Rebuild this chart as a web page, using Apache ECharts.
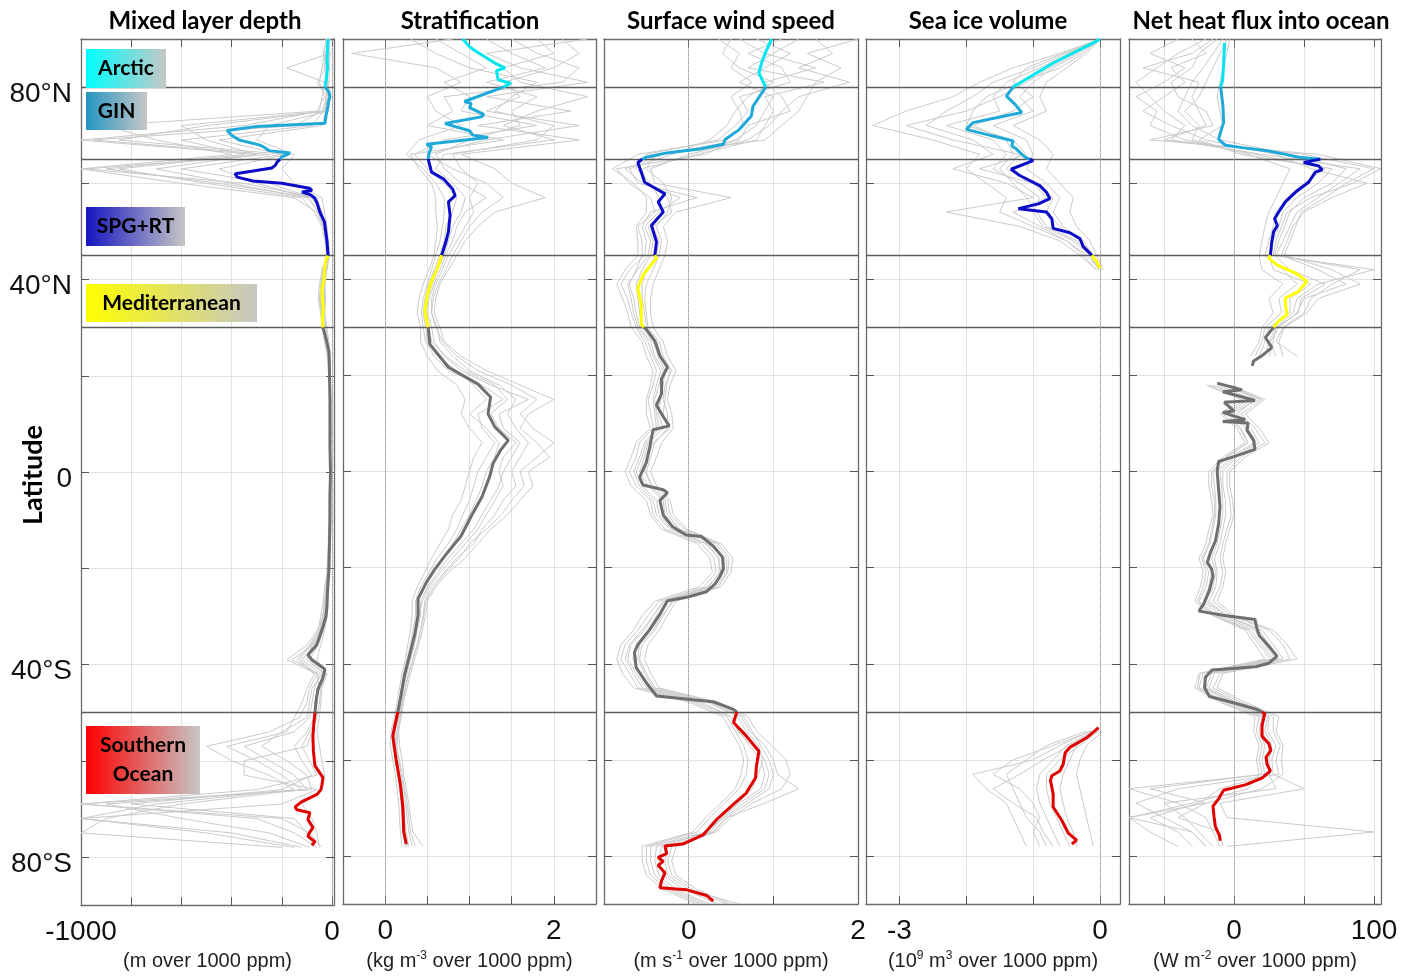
<!DOCTYPE html>
<html><head><meta charset="utf-8">
<script src="https://cdn.jsdelivr.net/npm/echarts@6/dist/echarts.min.js"></script>
<style>html,body{margin:0;padding:0;background:#fff}#c{width:1411px;height:976px}</style>
</head><body><div id="c"></div>
<script>
// ---------------- DATA ----------------
const PANEL_TITLES = ['Mixed layer depth','Stratification','Surface wind speed','Sea ice volume','Net heat flux into ocean'];
const X_MIN = [-1000, -0.5, -1, -3.5, -75];
const X_MAX = [8, 2.5, 2, 0.3, 105];
const X_TICKS = [[-800,-600,-400,-200,0],[0,0.5,1,1.5,2],[0,1],[-3,-2,-1,0],[-50,0,50,100]];
const X_LABELS = [[-1000,0],[0,2],[0,2],[-3,0],[0,100]];
const Y_TICKS = [-80,-60,-40,-20,0,20,40,60,80];
const Y_LABELS = [-80,-40,0,40,80];
const REGION_LINES = [80,65,45,30,-50];
const REGION_NAMES = ['Arctic','GIN','SPG+RT','Mediterranean','Other','Southern Ocean'];
const REGION_BOUNDS = [[80,90],[65,80],[45,65],[30,45],[-50,30],[-90,-50]];

// ensemble-member latitude grid (3 degree)
const LAT_GRID = [90,87,84,81,78,75,72,69,66,63,60,57,54,51,48,45,42,39,36,33,30,27,24,21,18,15,12,9,6,3,0,-3,-6,-9,-12,-15,-18,-21,-24,-27,-30,-33,-36,-39,-42,-45,-48,-51,-54,-57,-60,-63,-66,-69,-72,-75,-78,-81,-84,-87,-90];

// Mixed layer depth (m over 1000 ppm)
const mldMean = [[90,-16],[88,-18],[86,-20],[84,-18],[82,-22],[80,-28],[79,-12],[78,-8],[77,-14],[76,-16],[74,-24],[72.5,-28],[71.8,-300],[71,-418],[70,-400],[69,-370],[68,-290],[67.5,-270],[66.8,-250],[66.3,-167],[65.5,-200],[65,-207],[64.4,-219],[63.8,-225],[63.2,-240],[62.5,-320],[62,-386],[61.3,-378],[60.5,-315],[60,-200],[59,-90],[58.5,-80],[58.2,-120],[57.6,-85],[57,-70],[56,-60],[54,-48],[52,-30],[50,-25],[48,-20],[46,-17],[45,-16],[44,-25],[42,-30],[40,-32],[38,-40],[36,-38],[34,-35],[32,-38],[30,-36],[28,-25],[25,-12],[20,-10],[15,-8],[10,-8],[5,-8],[0,-6],[-5,-8],[-10,-8],[-15,-10],[-20,-12],[-25,-18],[-28,-20],[-30,-24],[-32,-35],[-34,-48],[-36,-62],[-38,-96],[-39,-80],[-41,-28],[-43,-38],[-45,-55],[-47,-62],[-50,-68],[-52,-72],[-55,-76],[-58,-74],[-61,-68],[-63.5,-36],[-65,-40],[-66,-44],[-67,-60],[-67.7,-88],[-68.5,-120],[-69.6,-147],[-70.2,-140],[-70.8,-88],[-72.2,-96],[-73.9,-76],[-75,-90],[-75.7,-96],[-76.8,-68],[-77.6,-80]];
const mldMembers = [
 [-10,-25,-30,-15,-20,-40,-150,-950,-250,-980,-350,-60,-40,-25,-15,-10,-20,-30,-25,-30,-20,-12,-8,-6,-6,-5,-5,-4,-5,-6,-5,-6,-6,-8,-8,-10,-12,-15,-20,-22,-30,-40,-70,-120,-40,-80,-90,-100,-200,-280,-180,-100,-80,-1000,-300,-150,-60],
 [-20,-10,-180,-30,-15,-30,-600,-500,-300,-700,-400,-100,-50,-30,-25,-20,-35,-45,-50,-40,-35,-25,-15,-10,-8,-8,-8,-7,-8,-8,-8,-9,-10,-10,-12,-12,-15,-18,-25,-30,-35,-60,-100,-180,-60,-50,-70,-60,-80,-100,-350,-350,-60,-200,-1000,-400,-120],
 [-15,-12,-20,-18,-10,-15,-250,-300,-150,-200,-150,-40,-30,-20,-15,-12,-25,-30,-35,-35,-30,-20,-10,-8,-8,-6,-6,-6,-7,-6,-6,-7,-7,-8,-9,-10,-10,-12,-15,-18,-20,-30,-45,-60,-20,-40,-45,-50,-60,-50,-40,-30,-40,-120,-80,-60,-50],
 [-25,-30,-40,-50,-30,-60,-900,-700,-400,-1000,-600,-150,-60,-35,-25,-18,-40,-50,-55,-45,-40,-30,-18,-12,-10,-10,-10,-10,-10,-10,-10,-10,-12,-12,-14,-15,-18,-20,-30,-35,-45,-55,-90,-140,-70,-100,-120,-150,-180,-420,-300,-200,-120,-600,-900,-1000,-200],
 [-8,-15,-10,-12,-25,-25,-40,-450,-200,-600,-250,-80,-45,-30,-20,-14,-28,-38,-42,-40,-38,-22,-10,-7,-7,-7,-7,-7,-7,-7,-7,-7,-8,-9,-10,-11,-12,-14,-18,-22,-28,-45,-80,-100,-30,-60,-60,-70,-100,-150,-120,-80,-200,-800,-150,-100,-70],
 [-12,-20,-25,-60,-15,-20,-500,-850,-180,-450,-300,-90,-55,-32,-22,-16,-30,-40,-45,-38,-32,-20,-12,-9,-8,-8,-7,-7,-8,-7,-7,-8,-8,-9,-10,-12,-14,-16,-22,-28,-38,-50,-75,-160,-50,-70,-80,-90,-150,-350,-250,-150,-100,-900,-600,-250,-90],
 [-18,-8,-15,-25,-40,-50,-350,-1000,-300,-850,-500,-120,-70,-40,-28,-22,-22,-28,-30,-28,-25,-15,-9,-6,-6,-6,-6,-5,-6,-6,-6,-6,-7,-7,-8,-9,-11,-13,-17,-20,-25,-35,-55,-90,-25,-45,-50,-60,-90,-120,-90,-60,-300,-1000,-200,-90,-40],
 [-22,-35,-20,-20,-12,-35,-80,-600,-350,-900,-450,-70,-42,-28,-18,-12,-35,-42,-48,-42,-36,-24,-14,-10,-9,-9,-9,-8,-9,-9,-9,-9,-10,-11,-12,-13,-16,-18,-24,-26,-32,-48,-85,-130,-60,-90,-100,-130,-250,-500,-400,-250,-150,-700,-1000,-500,-150]
];

// Stratification (kg m-3 over 1000 ppm)
const stratMean = [[90,0.92],[88.4,1.0],[87.4,1.08],[85,1.30],[84,1.42],[83.4,1.32],[81.5,1.34],[80.8,1.49],[80,1.40],[77,0.94],[76.6,1.02],[75.7,1.0],[74.3,1.17],[73.8,1.14],[72.4,0.71],[70.9,1.0],[70,1.04],[69.5,1.22],[68.1,0.49],[67.5,0.55],[66.3,0.52],[65,0.51],[62.3,0.55],[60.9,0.69],[58.8,0.80],[57.4,0.83],[56.1,0.75],[53.3,0.77],[49.9,0.75],[47.8,0.72],[45,0.67],[42.3,0.62],[39.6,0.55],[36.8,0.50],[33.4,0.47],[30,0.51],[26.5,0.53],[21.7,0.75],[18.2,1.10],[15.5,1.25],[12,1.22],[9.3,1.30],[6.5,1.46],[4.5,1.37],[1.7,1.28],[-1,1.24],[-5.2,1.15],[-9.3,1.02],[-13.4,0.90],[-17.5,0.71],[-20.3,0.59],[-23,0.49],[-26.5,0.39],[-29.9,0.39],[-34,0.35],[-38.2,0.29],[-42.3,0.23],[-46.4,0.19],[-50,0.15],[-55,0.09],[-60,0.13],[-65,0.18],[-70,0.21],[-75,0.22],[-77.5,0.25]];
const stratMembers = [
 [0.3,0.6,1.0,1.8,1.5,1.3,2.0,1.8,0.8,0.9,1.1,1.0,1.05,0.95,0.85,0.75,0.68,0.60,0.55,0.55,0.62,0.65,0.80,1.0,1.35,1.55,1.45,1.55,1.7,1.6,1.5,1.55,1.40,1.30,1.15,1.05,0.85,0.70,0.55,0.47,0.45,0.42,0.38,0.33,0.28,0.24,0.21,0.18,0.15,0.14,0.16,0.19,0.22,0.24,0.26,0.28,0.32],
 [1.5,1.8,2.3,2.1,0.7,0.8,0.5,1.4,0.3,0.4,0.55,0.6,0.6,0.62,0.6,0.58,0.52,0.45,0.40,0.38,0.42,0.42,0.50,0.62,0.85,0.95,0.90,1.0,1.15,1.05,1.0,0.95,0.9,0.80,0.75,0.65,0.55,0.47,0.38,0.32,0.32,0.30,0.27,0.24,0.20,0.17,0.14,0.11,0.07,0.06,0.09,0.12,0.14,0.16,0.17,0.18,0.2],
 [2.4,1.2,1.6,2.4,1.2,2.2,1.1,2.3,0.9,1.3,1.5,1.9,1.3,1.1,0.95,0.85,0.75,0.65,0.6,0.58,0.65,0.7,0.9,1.2,1.6,2.0,1.7,1.6,1.8,1.95,1.7,1.75,1.6,1.45,1.25,1.1,0.95,0.75,0.6,0.5,0.48,0.44,0.4,0.35,0.3,0.26,0.22,0.19,0.16,0.17,0.2,0.22,0.25,0.28,0.3,0.33,0.45],
 [0.8,-0.4,0.6,0.9,0.5,0.6,0.9,0.4,0.25,0.45,0.6,0.7,0.7,0.68,0.65,0.6,0.55,0.5,0.45,0.43,0.45,0.48,0.58,0.75,1.15,1.4,1.1,1.15,1.3,1.2,1.1,1.05,1.0,0.92,0.85,0.75,0.62,0.52,0.42,0.36,0.36,0.33,0.3,0.26,0.22,0.19,0.16,0.13,0.1,0.09,0.12,0.15,0.17,0.19,0.2,0.21,0.24],
 [1.2,1.5,1.9,1.2,1.8,1.5,1.6,1.0,0.6,0.7,0.9,1.2,0.95,0.85,0.8,0.72,0.65,0.58,0.52,0.5,0.55,0.58,0.7,0.9,1.25,1.7,1.35,1.4,1.6,1.5,1.4,1.35,1.25,1.15,1.05,0.9,0.75,0.62,0.5,0.42,0.42,0.38,0.35,0.3,0.26,0.22,0.19,0.16,0.12,0.12,0.15,0.17,0.2,0.22,0.23,0.25,0.28],
 [1.8,2.0,1.4,1.6,2.4,1.8,1.4,2.0,0.7,0.6,0.8,0.95,0.9,0.8,0.75,0.7,0.62,0.56,0.5,0.48,0.52,0.55,0.72,0.95,1.3,1.45,1.25,1.35,1.55,1.4,1.35,1.4,1.3,1.2,1.1,0.95,0.8,0.65,0.52,0.44,0.4,0.37,0.33,0.29,0.25,0.21,0.18,0.15,0.11,0.1,0.13,0.16,0.19,0.21,0.22,0.24,0.27],
 [0.6,0.9,1.2,0.7,1.0,0.9,1.8,0.7,0.35,0.5,0.7,0.85,0.8,0.72,0.7,0.65,0.58,0.52,0.47,0.45,0.48,0.5,0.62,0.85,1.05,1.2,1.0,1.2,1.35,1.3,1.2,1.15,1.08,1.0,0.9,0.8,0.68,0.56,0.45,0.38,0.38,0.35,0.31,0.27,0.23,0.2,0.17,0.14,0.1,0.1,0.13,0.16,0.18,0.2,0.21,0.22,0.25],
 [2.1,2.3,2.0,1.4,1.6,1.2,2.3,1.2,0.5,0.8,1.2,1.4,1.15,1.0,0.9,0.8,0.72,0.63,0.57,0.55,0.6,0.68,0.85,1.1,1.5,1.8,1.6,1.75,2.0,1.8,1.6,1.65,1.5,1.38,1.2,1.0,0.88,0.72,0.58,0.48,0.46,0.42,0.38,0.33,0.28,0.24,0.2,0.17,0.14,0.13,0.17,0.2,0.23,0.26,0.28,0.3,0.36]
];

// Surface wind speed (m s-1 over 1000 ppm)
const windMean = [[90,0.98],[87.7,0.92],[85,0.86],[82.9,0.83],[80,0.91],[76,0.76],[74,0.74],[71.2,0.60],[69.1,0.43],[68.1,0.41],[67.1,0.13],[66.3,-0.26],[65.4,-0.50],[65,-0.55],[64.3,-0.60],[62.3,-0.56],[60.2,-0.52],[57.8,-0.28],[56.1,-0.36],[54,-0.30],[51.2,-0.44],[47.8,-0.38],[45,-0.40],[44.4,-0.38],[40.9,-0.54],[38.2,-0.60],[34.7,-0.56],[30.6,-0.56],[30,-0.53],[29.6,-0.50],[27.2,-0.40],[24.1,-0.34],[21.7,-0.25],[19.3,-0.32],[16.2,-0.32],[13.8,-0.38],[11.4,-0.30],[9.5,-0.23],[8.7,-0.42],[5.1,-0.46],[1.9,-0.50],[-1.2,-0.58],[-2.8,-0.54],[-3.8,-0.30],[-4.4,-0.25],[-6.0,-0.34],[-9.1,-0.30],[-11.5,-0.19],[-13.2,-0.03],[-13.5,0.15],[-15.5,0.29],[-17.8,0.40],[-20.2,0.41],[-21.8,0.37],[-23.4,0.31],[-25.0,0.21],[-26.1,-0.01],[-26.9,-0.25],[-29.7,-0.34],[-32.9,-0.46],[-36.0,-0.60],[-37.6,-0.64],[-40.8,-0.62],[-43.9,-0.50],[-46.7,-0.38],[-47.5,0.05],[-47.9,0.29],[-49.5,0.53],[-50,0.57],[-50.3,0.59],[-52.2,0.53],[-55.0,0.68],[-58.2,0.83],[-61.3,0.80],[-63.7,0.79],[-66.9,0.68],[-69.2,0.53],[-72.4,0.33],[-75.6,0.17],[-77.5,-0.07],[-77.9,-0.28],[-79.5,-0.26],[-80.3,-0.36],[-81.1,-0.30],[-81.9,-0.36],[-83.5,-0.28],[-85.1,-0.32],[-86.6,-0.34],[-87.0,-0.03],[-88.2,0.21],[-89.4,0.29]];
const windMembers = [
 [0.5,0.4,0.6,1.0,0.7,0.55,0.45,0.25,-0.2,-0.7,-0.6,0.1,-0.45,-0.55,-0.5,-0.52,-0.7,-0.8,-0.72,-0.68,-0.62,-0.52,-0.45,-0.38,-0.42,-0.48,-0.45,-0.42,-0.58,-0.62,-0.7,-0.62,-0.45,-0.42,-0.28,0.15,0.3,0.32,0.18,-0.35,-0.48,-0.6,-0.75,-0.8,-0.7,-0.6,0.05,0.45,0.55,0.65,0.7,0.68,0.6,0.42,0.25,0.1,-0.5,-0.5,-0.45,-0.25,0.15],
 [1.5,1.7,1.3,1.9,1.3,1.1,0.95,0.7,0.0,-0.45,-0.4,0.5,-0.15,-0.3,-0.25,-0.28,-0.35,-0.42,-0.45,-0.45,-0.42,-0.3,-0.25,-0.15,-0.22,-0.25,-0.2,-0.18,-0.32,-0.38,-0.45,-0.38,-0.22,-0.18,-0.02,0.38,0.52,0.5,0.38,-0.15,-0.25,-0.35,-0.48,-0.52,-0.45,-0.35,0.35,0.7,0.8,0.98,1.15,1.2,1.1,0.75,0.5,0.32,-0.15,-0.2,-0.15,0.1,0.5],
 [0.8,1.2,0.9,0.6,1.0,0.9,0.8,0.55,0.2,-0.85,-0.7,-0.45,-0.4,-0.6,-0.55,-0.55,-0.62,-0.7,-0.65,-0.62,-0.58,-0.45,-0.4,-0.3,-0.35,-0.4,-0.38,-0.35,-0.5,-0.55,-0.62,-0.55,-0.38,-0.35,-0.2,0.22,0.35,0.38,0.22,-0.3,-0.42,-0.52,-0.68,-0.72,-0.62,-0.5,0.15,0.5,0.6,0.72,0.85,0.9,0.85,0.6,0.4,0.25,-0.38,-0.4,-0.35,-0.15,0.25],
 [2.0,1.4,1.8,1.5,1.4,1.3,1.1,0.9,-0.4,-0.5,-0.3,-0.2,-0.25,-0.38,-0.32,-0.35,-0.42,-0.5,-0.52,-0.5,-0.48,-0.35,-0.3,-0.2,-0.28,-0.3,-0.25,-0.25,-0.4,-0.45,-0.5,-0.45,-0.28,-0.25,-0.1,0.32,0.45,0.45,0.32,-0.2,-0.3,-0.4,-0.55,-0.58,-0.5,-0.4,0.25,0.62,0.72,0.9,1.0,1.05,1.3,0.9,0.45,0.28,-0.25,-0.28,-0.25,0.0,0.6],
 [1.1,0.7,1.1,1.2,0.6,0.7,0.55,0.35,-0.5,-0.62,-0.45,-0.35,-0.3,-0.48,-0.42,-0.45,-0.55,-0.62,-0.6,-0.58,-0.55,-0.42,-0.36,-0.28,-0.3,-0.33,-0.36,-0.3,-0.48,-0.52,-0.58,-0.48,-0.3,-0.28,-0.12,0.28,0.42,0.42,0.28,-0.25,-0.38,-0.48,-0.62,-0.66,-0.58,-0.48,0.22,0.58,0.68,0.82,0.88,0.82,0.75,0.58,0.38,0.22,-0.32,-0.35,-0.3,-0.05,0.35],
 [0.6,0.9,1.5,0.9,1.1,1.2,0.7,0.6,-0.3,-0.75,-0.55,-0.1,-0.35,-0.52,-0.45,-0.48,-0.6,-0.72,-0.68,-0.65,-0.6,-0.48,-0.42,-0.33,-0.38,-0.42,-0.4,-0.38,-0.52,-0.58,-0.65,-0.58,-0.42,-0.38,-0.22,0.2,0.36,0.36,0.24,-0.28,-0.42,-0.55,-0.7,-0.75,-0.65,-0.55,0.1,0.5,0.58,0.75,0.9,0.95,0.9,0.65,0.42,0.2,-0.45,-0.45,-0.4,-0.2,0.2],
 [1.3,1.0,0.7,1.6,0.9,1.0,0.9,0.8,0.1,-0.55,-0.5,-0.25,-0.2,-0.42,-0.35,-0.38,-0.5,-0.55,-0.55,-0.52,-0.5,-0.38,-0.32,-0.22,-0.26,-0.28,-0.3,-0.22,-0.42,-0.48,-0.52,-0.42,-0.25,-0.22,-0.05,0.35,0.48,0.46,0.35,-0.18,-0.32,-0.42,-0.58,-0.6,-0.52,-0.42,0.3,0.65,0.75,0.85,0.95,1.0,0.95,0.7,0.45,0.3,-0.2,-0.25,-0.2,0.05,0.45],
 [0.35,0.6,0.5,0.75,0.5,0.6,0.65,0.45,-0.6,-0.9,-0.65,-0.5,-0.5,-0.62,-0.6,-0.6,-0.75,-0.85,-0.78,-0.72,-0.68,-0.55,-0.5,-0.42,-0.45,-0.5,-0.5,-0.45,-0.62,-0.68,-0.75,-0.68,-0.5,-0.45,-0.32,0.1,0.25,0.28,0.12,-0.4,-0.55,-0.65,-0.8,-0.85,-0.78,-0.65,0.0,0.4,0.5,0.6,0.65,0.62,0.55,0.38,0.2,0.05,-0.55,-0.55,-0.5,-0.3,0.1]
];

// Sea ice volume (10^9 m3 over 1000 ppm)
const iceMean = [[90,0],[89.4,-0.07],[85,-0.70],[80,-1.30],[78.1,-1.40],[76.4,-1.27],[74.7,-1.17],[73.6,-1.55],[72.6,-1.90],[71.2,-2.00],[69.8,-1.60],[68.8,-1.30],[67.8,-1.32],[67.1,-1.25],[65.4,-1.12],[65,-1.05],[64.7,-1.0],[62.9,-1.33],[61.6,-1.2],[59.5,-0.90],[58.1,-0.80],[56.8,-0.75],[55.7,-0.92],[54.7,-1.22],[54,-0.80],[52.6,-0.72],[50.6,-0.70],[49.7,-0.45],[48.5,-0.30],[46.8,-0.25],[45,-0.12],[43.7,-0.05],[42.3,0.0],[-53.3,-0.02],[-55.4,-0.20],[-57.4,-0.45],[-58.5,-0.52],[-60.9,-0.55],[-62.3,-0.60],[-63.3,-0.72],[-64.3,-0.74],[-67.1,-0.70],[-69.8,-0.70],[-72.6,-0.57],[-75.3,-0.47],[-76.7,-0.35],[-77.5,-0.42]];
const ICE_LAT_N = [90,87,84,81,78,75,72,69,66,63,60,57,54,51,48,45,42];
const ICE_LAT_S = [-54,-57,-60,-63,-66,-69,-72,-75,-78];
const iceMembersN = [
 [0,-0.6,-1.3,-1.8,-2.2,-2.9,-3.4,-2.5,-1.8,-2.0,-1.7,-1.4,-1.5,-1.0,-0.5,-0.2,0.0],
 [0,-0.2,-0.5,-0.8,-0.9,-0.8,-1.3,-0.9,-0.7,-0.8,-0.6,-0.4,-0.45,-0.35,-0.15,-0.05,0.05],
 [0,-0.5,-1.0,-1.6,-1.9,-2.3,-2.6,-1.9,-1.6,-2.2,-1.4,-1.0,-2.3,-1.2,-0.6,-0.3,-0.05],
 [0,-0.3,-0.7,-1.0,-1.2,-1.0,-1.6,-1.1,-1.0,-1.1,-0.8,-0.6,-0.7,-0.55,-0.25,-0.1,0.0],
 [0,-0.45,-0.9,-1.4,-1.6,-1.5,-2.3,-1.6,-1.4,-1.6,-1.2,-0.9,-1.0,-0.85,-0.4,-0.15,-0.02],
 [0,-0.35,-0.75,-1.1,-1.5,-2.0,-2.9,-2.2,-1.2,-1.4,-1.0,-0.8,-1.3,-0.9,-0.5,-0.25,-0.05],
 [0,-0.55,-1.1,-1.3,-1.0,-1.3,-1.9,-1.4,-1.3,-1.5,-1.3,-1.1,-0.95,-0.8,-0.35,-0.15,0.02],
 [0,-0.25,-0.6,-1.2,-1.7,-1.9,-2.0,-1.3,-1.1,-1.8,-1.0,-0.7,-0.8,-0.6,-0.3,-0.1,-0.02]
];
const iceMembersS = [
 [-0.2,-0.8,-1.1,-1.4,-1.3,-1.2,-1.1,-0.9,-0.8],
 [0.05,-0.2,-0.3,-0.35,-0.3,-0.25,-0.2,-0.15,-0.1],
 [-0.15,-0.6,-1.0,-1.9,-1.7,-1.4,-1.3,-1.2,-1.1],
 [-0.05,-0.35,-0.45,-0.55,-0.6,-0.55,-0.5,-0.4,-0.35],
 [-0.1,-0.5,-0.7,-0.9,-0.95,-0.9,-0.8,-0.7,-0.6],
 [-0.08,-0.45,-0.85,-1.2,-1.6,-1.3,-0.95,-0.85,-0.7],
 [-0.02,-0.3,-0.6,-0.8,-0.8,-0.75,-0.65,-0.55,-0.45],
 [-0.12,-0.7,-1.3,-1.6,-1.2,-1.0,-0.9,-1.0,-0.9]
];

// Net heat flux into ocean (W m-2 over 1000 ppm)
const heatMean = [[89.2,-6.7],[85,-7.4],[81.5,-8.1],[80,-9.5],[79.8,-9.8],[76,-7.9],[72.6,-7.4],[71.2,-9],[69.1,-11],[67.9,-6.2],[67.4,5.7],[66.7,24.8],[66,36.7],[65.4,46.2],[65,61.7],[64.3,49.8],[63.6,60.5],[62.8,62.9],[62.3,58.1],[60.2,53.3],[58.1,43.8],[56.1,36.7],[54,31.9],[52.6,29.0],[51.2,31],[49.9,28.3],[47.8,27],[45,26],[44.4,24.8],[43,30.7],[41.3,43.8],[39.6,52.1],[37.5,46.2],[36.1,36.7],[34.7,36.7],[32.7,38],[31.3,31.9],[30,28.3],[27.9,22.4],[25.8,27],[24.1,20],[23,14],[22,13],[20,null],[18.4,-12],[17,5.7],[16.6,-8],[14.8,15],[14.4,-7],[12.6,0],[12.3,-8],[10.8,8],[10.4,-8],[10.1,10],[8.6,9.3],[6.5,14],[4.6,15],[3.2,1],[2.1,-11],[0,-12],[-3.7,-11],[-7.3,-10],[-10.9,-11],[-14.5,-13.3],[-16.7,-16.7],[-18.9,-19],[-20.3,-16],[-21.8,-15],[-24.7,-17.6],[-27.6,-21.7],[-29,-25],[-29.4,-18],[-29.9,-8],[-30.8,15],[-32.7,16.4],[-34.1,18],[-36.3,24.8],[-38.4,30.7],[-39.9,24.8],[-40.6,15.5],[-41,-0.9],[-41.3,-15.7],[-42.8,-20.5],[-45,-21],[-46.8,-17.6],[-48.2,1],[-49.4,15.5],[-50,20],[-50.4,21.9],[-52.9,20],[-55.1,20],[-56.6,24.8],[-58,26.4],[-59.4,22.9],[-60.9,23.6],[-62.3,26],[-63.8,20],[-65.2,8],[-66.3,-7.4],[-68.1,-11],[-69.6,-15],[-71.7,-14.3],[-73.9,-13.3],[-75.7,-10.5],[-76.8,-9.8]];
const heatMembers = [
 [-20,-40,-55,-70,-60,-50,-35,-45,20,90,75,60,45,40,35,30,90,70,55,50,35,30,45,null,-5,20,5,15,22,5,-5,-5,-3,-2,-5,-8,-10,-8,-10,-15,-2,25,35,40,-10,-15,5,28,28,33,30,32,-40,-70,-50,-30,-20],
 [-5,-10,-15,-20,-25,-35,-25,-30,10,40,35,30,25,22,20,18,20,35,25,28,20,18,12,null,-20,5,-10,2,8,-8,-18,-18,-16,-15,-18,-20,-25,-22,-24,-28,-15,8,15,22,-25,-28,-10,15,14,18,16,18,10,-30,-75,-60,-40],
 [-12,-25,-30,-45,-40,-20,-15,-60,60,105,85,55,38,34,30,28,100,60,45,42,30,28,25,null,0,15,2,12,18,2,-8,-8,-6,-6,-8,-10,-14,-12,-13,-18,-5,20,28,35,-14,-18,2,25,24,30,27,28,50,-10,-5,100,-5],
 [-3,-5,-8,-10,-12,-10,-8,-25,5,70,60,45,35,32,28,25,28,55,40,40,25,22,18,null,-15,10,-5,5,10,-5,-15,-14,-13,-13,-15,-17,-22,-18,-20,-25,-12,12,20,28,-22,-25,-5,20,18,22,20,22,-75,-40,-20,-15,-10],
 [-30,-20,-45,-35,-50,-65,-45,-20,30,55,95,70,50,42,38,34,60,80,50,45,32,26,30,null,-8,18,-2,10,16,0,-10,-9,-8,-8,-10,-12,-16,-13,-15,-20,-6,18,25,32,-16,-20,0,24,22,27,25,26,-10,-25,-60,-40,-30],
 [-8,-15,-22,-30,-35,-40,-30,-10,40,80,70,50,40,36,32,29,40,65,48,46,30,25,22,null,-12,14,-4,8,14,-2,-12,-11,-10,-10,-12,-14,-19,-16,-18,-22,-9,15,22,30,-18,-22,-2,22,20,25,24,25,30,-50,-35,-25,-15],
 [-40,-60,-35,-50,-70,-55,-60,-35,15,65,50,38,30,28,25,22,35,45,32,34,22,20,15,null,-18,8,-8,4,10,-6,-16,-16,-14,-14,-16,-18,-23,-20,-22,-26,-14,10,18,26,-24,-26,-8,18,16,20,18,20,-60,-20,-75,-30,-20],
 [-15,-30,-65,-25,-30,-25,-20,-50,50,100,80,65,48,44,40,36,70,90,60,52,36,32,35,null,-3,22,8,18,25,8,-3,-3,-1,0,-3,-6,-8,-6,-8,-12,0,28,38,45,-8,-12,8,32,30,35,34,35,20,-20,-40,-10,-8]
];

// ---------------- STYLE / LAYOUT ----------------
const GRID_LEFT = [81, 343, 604, 866, 1129];
const GRID_WIDTH = [253, 253, 254, 254, 252];
const GRID_TOP = 39, GRID_HEIGHT = 872;
const TITLE_X = [205, 470, 731, 988, 1261];
const REGION_LINE_COLORS = ['#00e6ef','#1ea9d8','#0c0cc8','#ffff00','#6f6f6f','#e00000'];
const REGION_BOX_COLORS = ['#00ffff','#2596c2','#1515c2','#ffff00',null,'#ff0000'];
const MEMBER_COLOR = '#cacaca';
const FRAME = '#6a6a6a';
const UNIT_LABELS = [
  '{a|(m over 1000 ppm)}',
  '{a|(kg m}{s|-3}{a| over 1000 ppm)}',
  '{a|(m s}{s|-1}{a| over 1000 ppm)}',
  '{a|(10}{s|9}{a| m}{s|3}{a| over 1000 ppm)}',
  '{a|(W m}{s|-2}{a| over 1000 ppm)}'
];

function latFmt(v){ return v > 0 ? v + '°N' : (v < 0 ? (-v) + '°S' : '0'); }
function toXY(pairs){ return pairs.map(p => [p[1] === null ? '-' : p[1], p[0]]); }
function gridMember(vals, lats){ return vals.map((v,i) => [v === null || v === undefined ? '-' : v, lats[i]]); }

const grids = [], xAxes = [], yAxes = [], series = [];
const memberSets = [];
memberSets.push(mldMembers.map(m => gridMember(m, LAT_GRID)));
memberSets.push(stratMembers.map(m => gridMember(m, LAT_GRID)));
memberSets.push(windMembers.map(m => gridMember(m, LAT_GRID)));
memberSets.push(iceMembersN.map((m,k) => gridMember(m, ICE_LAT_N).concat([['-', 0]], gridMember(iceMembersS[k], ICE_LAT_S))));
memberSets.push(heatMembers.map(m => gridMember(m, LAT_GRID)));
const means = [mldMean, stratMean, windMean, iceMean, heatMean];

for (let g = 0; g < 5; g++) {
  grids.push({left: GRID_LEFT[g], top: GRID_TOP, width: GRID_WIDTH[g], height: GRID_HEIGHT, show: false});
  const baseX = {
    type: 'value', gridIndex: g, min: X_MIN[g], max: X_MAX[g],
    axisLine: {show: true, onZero: false, lineStyle: {color: FRAME, width: 1.3}},
    axisTick: {show: true, inside: true, length: 8, customValues: X_TICKS[g], lineStyle: {color: '#555'}},
  };
  xAxes.push(Object.assign({}, baseX, {
    position: 'bottom',
    splitLine: {show: true, lineStyle: {color: '#e2e2e2', width: 1}},
    axisLabel: {show: true, customValues: X_LABELS[g], formatter: v => String(v), fontSize: 28, fontFamily: 'Liberation Sans', color: '#111', margin: 13},
    name: UNIT_LABELS[g], nameLocation: 'middle', nameGap: 42,
    nameTextStyle: {rich: {
      a: {fontSize: 20, fontFamily: 'Liberation Sans', color: '#222', lineHeight: 22},
      s: {fontSize: 12, fontFamily: 'Liberation Sans', color: '#222', lineHeight: 12, verticalAlign: 'top'}
    }}
  }));
  xAxes.push(Object.assign({}, baseX, {position: 'top', splitLine: {show: false}, axisLabel: {show: false}}));
  const baseY = {
    type: 'value', gridIndex: g, min: -90, max: 90,
    axisLine: {show: true, onZero: false, lineStyle: {color: FRAME, width: 1.3}},
    axisTick: {show: true, inside: true, length: 8, customValues: Y_TICKS, lineStyle: {color: '#555'}},
  };
  yAxes.push(Object.assign({}, baseY, {
    position: 'left',
    splitLine: {show: true, lineStyle: {color: '#e2e2e2', width: 1}},
    axisLabel: g === 0 ? {show: true, customValues: Y_LABELS, formatter: latFmt, fontSize: 28, fontFamily: 'Liberation Sans', color: '#111', margin: 9, verticalAlign: 'top', lineHeight: 14} : {show: false}
  }));
  yAxes.push(Object.assign({}, baseY, {position: 'right', splitLine: {show: false}, axisLabel: {show: false}}));

  const xi = g * 2, yi = g * 2;
  memberSets[g].forEach(d => series.push({
    type: 'line', xAxisIndex: xi, yAxisIndex: yi, data: d, symbol: 'none', silent: true,
    lineStyle: {color: MEMBER_COLOR, width: 1}, z: 2
  }));
  // region boundary lines and zero line
  series.push({
    type: 'line', xAxisIndex: xi, yAxisIndex: yi, data: [[0, 0]], symbol: 'none', silent: true,
    lineStyle: {opacity: 0}, z: 3,
    markLine: {silent: true, symbol: 'none', label: {show: false}, animation: false,
      data: REGION_LINES.map(v => ({yAxis: v, lineStyle: {color: '#5c5c5c', width: 1.4, type: 'solid'}}))
        .concat([{xAxis: 0, lineStyle: {color: '#8c8c8c', width: 1, type: 'dotted'}}])}
  });
  REGION_BOUNDS.forEach((b, k) => {
    const seg = means[g].filter(p => p[0] >= b[0] && p[0] <= b[1]);
    series.push({
      type: 'line', xAxisIndex: xi, yAxisIndex: yi, name: REGION_NAMES[k], data: toXY(seg),
      symbol: 'none', silent: true, lineStyle: {color: REGION_LINE_COLORS[k], width: 3}, z: 5
    });
  });
}

// text and region legend boxes
const graphic = [];
PANEL_TITLES.forEach((t, i) => graphic.push({type: 'text', x: TITLE_X[i], y: 21, z: 10,
  style: {text: t, font: 'bold 24px Lato', fill: '#000', align: 'center', verticalAlign: 'middle'}}));
graphic.push({type: 'text', x: 33, y: 475, rotation: Math.PI / 2, z: 10,
  style: {text: 'Latitude', font: 'bold 27px Lato', fill: '#000', align: 'center', verticalAlign: 'middle'}});
const BOXES = [
  {k: 0, x: 86, y: 49, w: 80, h: 39, text: 'Arctic'},
  {k: 1, x: 86, y: 92, w: 61, h: 38, text: 'GIN'},
  {k: 2, x: 86, y: 207, w: 99, h: 39, text: 'SPG+RT'},
  {k: 3, x: 86, y: 284, w: 171, h: 38, text: 'Mediterranean'},
  {k: 5, x: 86, y: 726, w: 114, h: 68, text: 'Southern\nOcean'}
];
BOXES.forEach(b => {
  graphic.push({type: 'rect', z: 20, shape: {x: b.x, y: b.y, width: b.w, height: b.h},
    style: {fill: {type: 'linear', x: 0, y: 0, x2: 1, y2: 0, colorStops: [
      {offset: 0, color: REGION_BOX_COLORS[b.k]}, {offset: 1, color: '#c6c6c6'}]}}});
  graphic.push({type: 'text', z: 21, x: b.x + b.w / 2, y: b.y + b.h / 2,
    style: {text: b.text, font: 'bold 21px Lato', fill: '#000', align: 'center', verticalAlign: 'middle', lineHeight: 29}});
});

const chart = echarts.init(document.getElementById('c'), null, {renderer: 'canvas'});
chart.setOption({
  animation: false, backgroundColor: '#fff',
  grid: grids, xAxis: xAxes, yAxis: yAxes, series: series, graphic: graphic
});
</script></body></html>
